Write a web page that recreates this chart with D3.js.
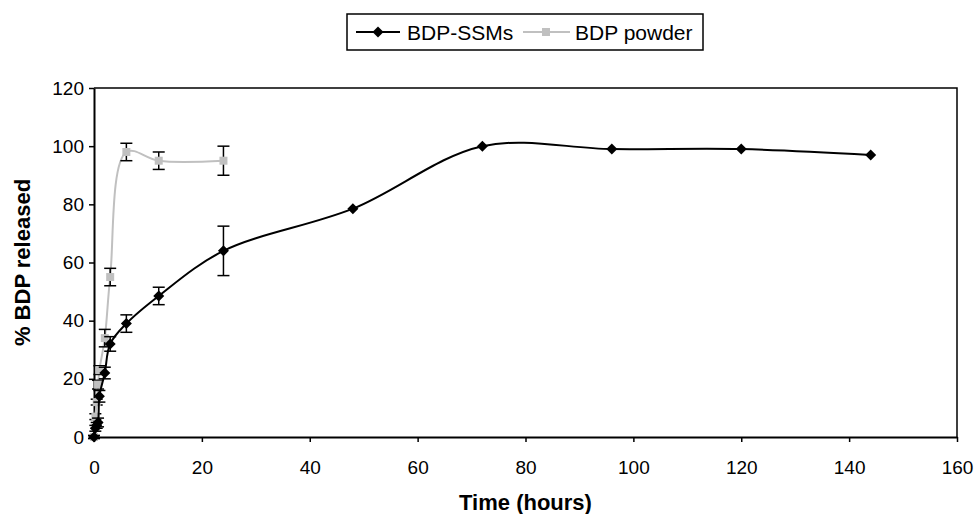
<!DOCTYPE html>
<html>
<head>
<meta charset="utf-8">
<script src="https://cdn.jsdelivr.net/npm/d3@7"></script>
<style>
body { margin: 0; background: #fff; }
text { font-family: "Liberation Sans", Arial, sans-serif; }
</style>
</head>
<body>
<div id="chart"></div>
<script>
// BDP-SSMs (black diamonds)
var ssmTime = [0, 0.25, 0.5, 0.75, 1, 2, 3, 6, 12, 24, 48, 72, 96, 120, 144];
var ssmValue = [0, 3, 4, 5, 14, 22, 32, 39, 48.5, 64, 78.5, 100, 99, 99, 97];
var ssmError = [0.5, 1, 1, 1.5, 2, 2, 2.5, 3, 3, 8.5, 0, 0, 0, 0, 0];

// BDP powder (grey squares)
var powderTime = [0, 0.25, 0.5, 0.75, 1, 2, 3, 6, 12, 24];
var powderValue = [0, 7, 12, 18, 23, 34, 55, 98, 95, 95];
var powderError = [0.5, 1, 1, 1.5, 1.5, 3, 3, 3, 3, 5];

var xTicks = [0, 20, 40, 60, 80, 100, 120, 140, 160];
var yTicks = [0, 20, 40, 60, 80, 100, 120];

var width = 976, height = 514;
var margin = { top: 88, right: 19, bottom: 77, left: 94 };

var svg = d3.select("#chart").append("svg")
    .attr("width", width)
    .attr("height", height);

var xScale = d3.scaleLinear()
    .domain([0, 160])
    .range([margin.left, width - margin.right]);

var yScale = d3.scaleLinear()
    .domain([0, 120])
    .range([height - margin.bottom, margin.top]);

// plot frame (top + right)
svg.append("path")
    .attr("d", `M${xScale(0)},${yScale(120)}H${xScale(160)}V${yScale(0)}`)
    .attr("fill", "none")
    .attr("stroke", "#000")
    .attr("stroke-width", 1.5);

var xAxis = svg.append("g")
    .attr("transform", `translate(0, ${yScale(0)})`)
    .call(d3.axisBottom(xScale).tickValues(xTicks).tickSize(5).tickPadding(19).tickSizeOuter(0));

var yAxis = svg.append("g")
    .attr("transform", `translate(${xScale(0)}, 0)`)
    .call(d3.axisLeft(yScale).tickValues(yTicks).tickSize(5).tickPadding(5).tickSizeOuter(0));

[xAxis, yAxis].forEach(function (ax) {
    ax.select(".domain").attr("stroke", "#000").attr("stroke-width", 2);
    ax.selectAll(".tick line").attr("stroke", "#000").attr("stroke-width", 1.5);
    ax.selectAll(".tick text")
        .attr("fill", "#000")
        .style("font-size", "19px")
        .style("font-family", "'Liberation Sans', Arial, sans-serif");
});

// axis titles
svg.append("text")
    .attr("x", (xScale(0) + xScale(160)) / 2)
    .attr("y", 510)
    .attr("text-anchor", "middle")
    .style("font-size", "22px")
    .style("font-weight", "bold")
    .text("Time (hours)");

svg.append("text")
    .attr("transform", `translate(30, ${(yScale(0) + yScale(120)) / 2}) rotate(-90)`)
    .attr("text-anchor", "middle")
    .style("font-size", "22px")
    .style("font-weight", "bold")
    .text("% BDP released");

function makeData(t, v, e) {
    return t.map(function (d, i) { return { t: d, v: v[i], e: e[i] }; });
}

var ssmData = makeData(ssmTime, ssmValue, ssmError);
var powderData = makeData(powderTime, powderValue, powderError);

var line = d3.line()
    .x(d => xScale(d.t))
    .y(d => yScale(d.v))
    .curve(d3.curveCatmullRom.alpha(0.5));

function drawErrors(data) {
    var g = svg.append("g").attr("stroke", "#000").attr("stroke-width", 1.5);
    data.filter(d => d.e > 0).forEach(function (d) {
        var x = xScale(d.t);
        g.append("line").attr("x1", x).attr("x2", x)
            .attr("y1", yScale(d.v - d.e)).attr("y2", yScale(d.v + d.e));
        [d.v - d.e, d.v + d.e].forEach(function (y) {
            g.append("line").attr("x1", x - 6).attr("x2", x + 6)
                .attr("y1", yScale(y)).attr("y2", yScale(y));
        });
    });
}

// powder series
svg.append("path")
    .datum(powderData)
    .attr("d", line)
    .attr("fill", "none")
    .attr("stroke", "#c0c0c0")
    .attr("stroke-width", 2);

drawErrors(powderData);

svg.append("g").selectAll("rect")
    .data(powderData).enter()
    .append("rect")
    .attr("x", d => xScale(d.t) - 4)
    .attr("y", d => yScale(d.v) - 4)
    .attr("width", 8)
    .attr("height", 8)
    .attr("fill", "#c0c0c0");

// SSM series
svg.append("path")
    .datum(ssmData)
    .attr("d", line)
    .attr("fill", "none")
    .attr("stroke", "#000")
    .attr("stroke-width", 2);

drawErrors(ssmData);

var diamond = "M0,-5.5L5.5,0L0,5.5L-5.5,0Z";

svg.append("g").selectAll("path")
    .data(ssmData).enter()
    .append("path")
    .attr("d", diamond)
    .attr("transform", d => `translate(${xScale(d.t)}, ${yScale(d.v)})`)
    .attr("fill", "#000");

// legend
var legend = svg.append("g");
legend.append("rect")
    .attr("x", 347).attr("y", 14)
    .attr("width", 356).attr("height", 36)
    .attr("fill", "#fff")
    .attr("stroke", "#000")
    .attr("stroke-width", 1.5);

legend.append("line")
    .attr("x1", 356).attr("x2", 400).attr("y1", 32).attr("y2", 32)
    .attr("stroke", "#000").attr("stroke-width", 2);
legend.append("path")
    .attr("d", diamond)
    .attr("transform", "translate(378, 32)")
    .attr("fill", "#000");
legend.append("text")
    .attr("x", 407).attr("y", 39.5)
    .style("font-size", "21px")
    .text("BDP-SSMs");

legend.append("line")
    .attr("x1", 523).attr("x2", 570).attr("y1", 32).attr("y2", 32)
    .attr("stroke", "#c0c0c0").attr("stroke-width", 2);
legend.append("rect")
    .attr("x", 542).attr("y", 28).attr("width", 8).attr("height", 8)
    .attr("fill", "#c0c0c0");
legend.append("text")
    .attr("x", 575).attr("y", 39.5)
    .style("font-size", "21px")
    .text("BDP powder");
</script>
</body>
</html>
